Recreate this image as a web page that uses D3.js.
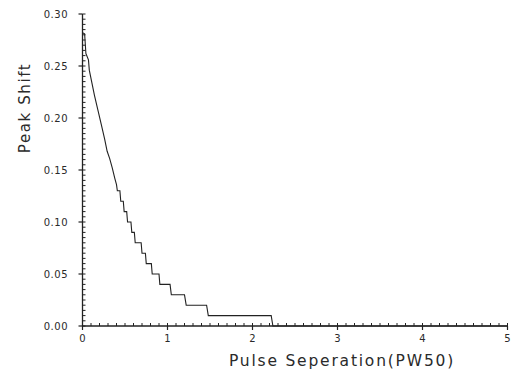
<!DOCTYPE html>
<html><head><meta charset="utf-8">
<script src="https://cdn.jsdelivr.net/npm/d3@7/dist/d3.min.js"></script>
<style>body{margin:0;background:#fff}svg{display:block}text{font-family:"DejaVu Sans",sans-serif;fill:#2a2a2a}</style>
</head><body><svg id="c" width="515" height="375"></svg>
<script>
// Pulse separation (PW50)
const sepX = [0.00,0.025,0.04,0.07,0.08,0.11,0.14,0.18,0.22,0.26,0.29,0.32,0.35,0.38,0.40,0.41,0.44,0.45,0.48,0.49,0.52,0.53,0.57,0.58,0.61,0.62,0.69,0.70,0.74,0.75,0.81,0.82,0.90,0.91,1.03,1.045,1.20,1.22,1.46,1.48,2.22,2.24,5.00];
// Peak shift
const shiftY = [0.282,0.281,0.262,0.256,0.246,0.234,0.222,0.208,0.194,0.180,0.168,0.161,0.152,0.142,0.136,0.130,0.130,0.120,0.120,0.110,0.110,0.100,0.100,0.090,0.090,0.080,0.080,0.070,0.070,0.060,0.060,0.050,0.050,0.040,0.040,0.030,0.030,0.020,0.020,0.010,0.010,0.000,0.000];
const xTicks = [0,1,2,3,4,5];
const yTicks = [0.00,0.05,0.10,0.15,0.20,0.25,0.30];
const xTitle = "Pulse Seperation(PW50)";
const yTitle = "Peak Shift";

const svg = d3.select("#c");
const x = d3.scaleLinear().domain([0,5]).range([82.5,507.5]);
const y = d3.scaleLinear().domain([0,0.30]).range([326,14]);
const ink = "#222";

svg.append("line").attr("x1",x(0)).attr("x2",x(5)).attr("y1",y(0)).attr("y2",y(0)).attr("stroke",ink).attr("stroke-width",1.3);
svg.append("line").attr("x1",x(0)).attr("x2",x(0)).attr("y1",y(0)).attr("y2",y(0.30)).attr("stroke",ink).attr("stroke-width",1.3);

const xMinor = d3.range(0,51).map(i=>i/10);
svg.append("g").selectAll("line").data(xMinor).join("line")
  .attr("x1",d=>x(d)).attr("x2",d=>x(d)).attr("y1",y(0)).attr("y2",y(0)-3)
  .attr("stroke",ink).attr("stroke-width",1);
svg.append("g").selectAll("line").data(xTicks).join("line")
  .attr("x1",d=>x(d)).attr("x2",d=>x(d)).attr("y1",y(0)).attr("y2",y(0)+4)
  .attr("stroke",ink).attr("stroke-width",1.2);
svg.append("g").selectAll("text").data(xTicks).join("text")
  .attr("x",d=>x(d)).attr("y",342).attr("text-anchor","middle")
  .attr("font-size",10).text(d=>d);

const yMinor = d3.range(0,61).map(i=>i*0.005);
svg.append("g").selectAll("line").data(yMinor).join("line")
  .attr("x1",x(0)).attr("x2",x(0)+3).attr("y1",d=>y(d)).attr("y2",d=>y(d))
  .attr("stroke",ink).attr("stroke-width",1);
svg.append("g").selectAll("line").data(yTicks).join("line")
  .attr("x1",x(0)-4).attr("x2",x(0)).attr("y1",d=>y(d)).attr("y2",d=>y(d))
  .attr("stroke",ink).attr("stroke-width",1.2);
svg.append("g").selectAll("text").data(yTicks).join("text")
  .attr("x",68).attr("y",d=>y(d)+3.5).attr("text-anchor","end")
  .attr("font-size",10).attr("letter-spacing",0.5).text(d=>d.toFixed(2));

const pts = sepX.map((v,i)=>[v,shiftY[i]]);
svg.append("path").datum(pts)
  .attr("d",d3.line().x(d=>x(d[0])).y(d=>y(d[1])))
  .attr("fill","none").attr("stroke",ink).attr("stroke-width",1.1);

svg.append("text").attr("x",342).attr("y",366).attr("text-anchor","middle")
  .attr("font-size",15.5).attr("letter-spacing",1.8).text(xTitle);
svg.append("text").attr("transform","translate(30,108) rotate(-90)").attr("text-anchor","middle")
  .attr("font-size",15).attr("letter-spacing",1.6).text(yTitle);
</script></body></html>
